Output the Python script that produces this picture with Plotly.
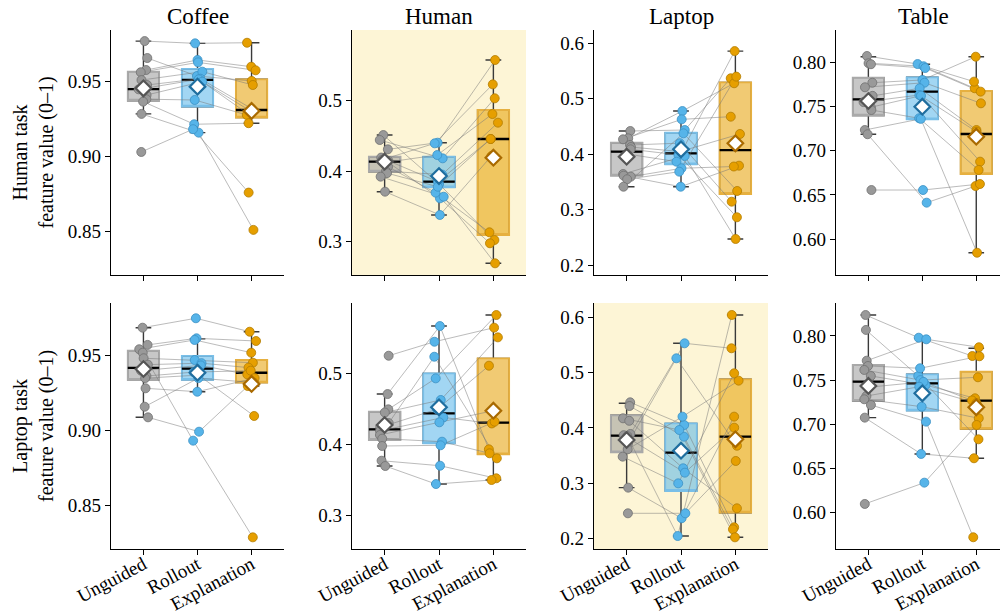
import numpy as np
import plotly.graph_objects as go

# ---------------- data ----------------
conditions = ["Unguided", "Rollout", "Explanation"]
objects = ["Coffee", "Human", "Laptop", "Table"]
task_titles = ["Human task<br>feature value (0–1)", "Laptop task<br>feature value (0–1)"]
highlight = [(0, 1), (1, 2)]  # (row, col) of highlighted panels

# 12 participants per condition, index-aligned (same participant across conditions)
ht_coffee_unguided = [0.9771, 0.9658, 0.9578, 0.9563, 0.9511, 0.9478, 0.9449, 0.9411, 0.9383, 0.9367, 0.9285, 0.9031]
ht_coffee_rollout = [0.9756, 0.9538, 0.9645, 0.9629, 0.9567, 0.9520, 0.9516, 0.9500, 0.9378, 0.9216, 0.9160, 0.9183]
ht_coffee_explanation = [0.9760, 0.9505, 0.9600, 0.9576, 0.9478, 0.9320, 0.9300, 0.9280, 0.9278, 0.9223, 0.8511, 0.8760]

ht_human_unguided = [0.4508, 0.4438, 0.4306, 0.4190, 0.4160, 0.4144, 0.4120, 0.4060, 0.3997, 0.3970, 0.3920, 0.3708]
ht_human_rollout = [0.3816, 0.4179, 0.4400, 0.3614, 0.4391, 0.3849, 0.4226, 0.3694, 0.3950, 0.3778, 0.3637, 0.3379]
ht_human_explanation = [0.3025, 0.5027, 0.5568, 0.2979, 0.5224, 0.4452, 0.4805, 0.3134, 0.4683, 0.4452, 0.2696, 0.4211]

ht_laptop_unguided = [0.4420, 0.4288, 0.4270, 0.4168, 0.4130, 0.4090, 0.4005, 0.3645, 0.3615, 0.3597, 0.3550, 0.3416]
ht_laptop_rollout = [0.4438, 0.4780, 0.4630, 0.4200, 0.4050, 0.3990, 0.3867, 0.3970, 0.3416, 0.3748, 0.3687, 0.4378]
ht_laptop_explanation = [0.5370, 0.5280, 0.4678, 0.3146, 0.4366, 0.2865, 0.5860, 0.2474, 0.3795, 0.3780, 0.5400, 0.3339]

ht_table_unguided = [0.8071, 0.7989, 0.7978, 0.7769, 0.7717, 0.7620, 0.7550, 0.7491, 0.7460, 0.7234, 0.7186, 0.6555]
ht_table_rollout = [0.7980, 0.7955, 0.7935, 0.7800, 0.7769, 0.7706, 0.7630, 0.7622, 0.7367, 0.7360, 0.6412, 0.6555]
ht_table_explanation = [0.7706, 0.7781, 0.7668, 0.8063, 0.7536, 0.7234, 0.7215, 0.6876, 0.6782, 0.5846, 0.6600, 0.6623]

lt_coffee_unguided = [0.9687, 0.9572, 0.9543, 0.9520, 0.9483, 0.9440, 0.9400, 0.9364, 0.9350, 0.9282, 0.9159, 0.9088]
lt_coffee_rollout = [0.9750, 0.9616, 0.9605, 0.8932, 0.9471, 0.9450, 0.9435, 0.9390, 0.9370, 0.9259, 0.9350, 0.8992]
lt_coffee_explanation = [0.9660, 0.9598, 0.9520, 0.8286, 0.9453, 0.9420, 0.9375, 0.9400, 0.9097, 0.9350, 0.9320, 0.9297]

lt_human_unguided = [0.5253, 0.4711, 0.4495, 0.4450, 0.4300, 0.4240, 0.4190, 0.4132, 0.4080, 0.3976, 0.3768, 0.3693]
lt_human_rollout = [0.5451, 0.5673, 0.4933, 0.4627, 0.5239, 0.4496, 0.4380, 0.4311, 0.4037, 0.3986, 0.3697, 0.3438]
lt_human_explanation = [0.5650, 0.3929, 0.5829, 0.5513, 0.3802, 0.5112, 0.4295, 0.4470, 0.3873, 0.4320, 0.3519, 0.3495]

lt_laptop_unguided = [0.4464, 0.4397, 0.4175, 0.4130, 0.3892, 0.3870, 0.3855, 0.3723, 0.3615, 0.3482, 0.2922, 0.2459]
lt_laptop_rollout = [0.4054, 0.3843, 0.3964, 0.3272, 0.5530, 0.3193, 0.2049, 0.5259, 0.4205, 0.3000, 0.2369, 0.2459]
lt_laptop_explanation = [0.2206, 0.2170, 0.2025, 0.2549, 0.5440, 0.4006, 0.6042, 0.3680, 0.4855, 0.4988, 0.4205, 0.3404]

lt_table_unguided = [0.8237, 0.8068, 0.7720, 0.7660, 0.7615, 0.7547, 0.7420, 0.7320, 0.7283, 0.7218, 0.7075, 0.6098]
lt_table_rollout = [0.7980, 0.7547, 0.7962, 0.7634, 0.7500, 0.7445, 0.7480, 0.7425, 0.7199, 0.7030, 0.6664, 0.6339]
lt_table_explanation = [0.7773, 0.6830, 0.7872, 0.7770, 0.7532, 0.7294, 0.7270, 0.7240, 0.7068, 0.5721, 0.6615, 0.6992]

# box summaries: [lower whisker, q1, median, q3, upper whisker, mean]
ht_coffee_box = [[0.9285, 0.9373, 0.9451, 0.9567, 0.9771, 0.9456],
                 [0.9160, 0.9333, 0.9512, 0.9585, 0.9756, 0.9467],
                 [0.9223, 0.9260, 0.9311, 0.9516, 0.9760, 0.9305]]
ht_human_box = [[0.3708, 0.3990, 0.4132, 0.4202, 0.4508, 0.4132],
                [0.3379, 0.3770, 0.3849, 0.4202, 0.4400, 0.3929],
                [0.2696, 0.3096, 0.4452, 0.4862, 0.5568, 0.4188]]
ht_laptop_box = [[0.3416, 0.3615, 0.4047, 0.4209, 0.4420, 0.3957],
                 [0.3416, 0.3820, 0.4018, 0.4389, 0.4780, 0.4090],
                 [0.2474, 0.3285, 0.4077, 0.5297, 0.5860, 0.4198]]
ht_table_box = [[0.7186, 0.7396, 0.7581, 0.7826, 0.8063, 0.7562],
                [0.7355, 0.7355, 0.7668, 0.7830, 0.7977, 0.7498],
                [0.5846, 0.6736, 0.7189, 0.7675, 0.8063, 0.7158]]
lt_coffee_box = [[0.9088, 0.9338, 0.9418, 0.9533, 0.9687, 0.9411],
                 [0.9259, 0.9338, 0.9413, 0.9498, 0.9612, 0.9386],
                 [0.9297, 0.9320, 0.9386, 0.9471, 0.9660, 0.9311]]
lt_human_box = [[0.3693, 0.4061, 0.4212, 0.4461, 0.4711, 0.4273],
                [0.3438, 0.4014, 0.4438, 0.5004, 0.5673, 0.4523],
                [0.3495, 0.3859, 0.4306, 0.5216, 0.5829, 0.4476]]
lt_laptop_box = [[0.2922, 0.3561, 0.3861, 0.4229, 0.4446, 0.3783],
                 [0.2049, 0.2862, 0.3554, 0.4084, 0.5530, 0.3590],
                 [0.2025, 0.2470, 0.3843, 0.4880, 0.6042, 0.3795]]
lt_table_box = [[0.7075, 0.7264, 0.7482, 0.7671, 0.8237, 0.7434],
                [0.6664, 0.7154, 0.7464, 0.7566, 0.7974, 0.7351],
                [0.6615, 0.6947, 0.7267, 0.7596, 0.7860, 0.7192]]

# y-axis ranges and ticks per panel (row-major)
y_ranges = [[0.821, 0.9845], [0.2531, 0.5992], [0.1825, 0.624], [0.5594, 0.8365],
            [0.8208, 0.9852], [0.2519, 0.5999], [0.1814, 0.6258], [0.5588, 0.8373]]
y_ticks = [[0.85, 0.90, 0.95], [0.3, 0.4, 0.5], [0.2, 0.3, 0.4, 0.5, 0.6], [0.60, 0.65, 0.70, 0.75, 0.80],
           [0.85, 0.90, 0.95], [0.3, 0.4, 0.5], [0.2, 0.3, 0.4, 0.5, 0.6], [0.60, 0.65, 0.70, 0.75, 0.80]]
y_formats = [".2f", ".1f", ".1f", ".2f", ".2f", ".1f", ".1f", ".2f"]

panels_points = [
    [ht_coffee_unguided, ht_coffee_rollout, ht_coffee_explanation],
    [ht_human_unguided, ht_human_rollout, ht_human_explanation],
    [ht_laptop_unguided, ht_laptop_rollout, ht_laptop_explanation],
    [ht_table_unguided, ht_table_rollout, ht_table_explanation],
    [lt_coffee_unguided, lt_coffee_rollout, lt_coffee_explanation],
    [lt_human_unguided, lt_human_rollout, lt_human_explanation],
    [lt_laptop_unguided, lt_laptop_rollout, lt_laptop_explanation],
    [lt_table_unguided, lt_table_rollout, lt_table_explanation],
]
panels_box = [ht_coffee_box, ht_human_box, ht_laptop_box, ht_table_box,
              lt_coffee_box, lt_human_box, lt_laptop_box, lt_table_box]

# ---------------- styles ----------------
W, H = 1000, 614
FONT = "Liberation Serif, Times New Roman, serif"
point_colors = ["#999999", "#56B4E9", "#E69F00"]
point_edges = ["#707070", "#3b90c4", "#b37c00"]
box_fills = ["rgba(153,153,153,0.55)", "rgba(86,180,233,0.55)", "rgba(230,159,0,0.55)"]
box_edges = ["#a9a9a9", "#79bfe8", "#e6b040"]
mean_edges = ["#555555", "#1f6e9f", "#a96a00"]
WHISKER = "#3a3a3a"
HILITE = "#fdf5d6"

col_px = [(111, 284), (352, 526), (594, 768), (836, 1000)]
row_px = [(30, 275), (303, 549)]
x_ranges = [[-0.6, 2.6], [-0.6, 2.6], [-0.6, 2.6], [-0.6, 2.44]]

BOXW = 0.58
rng = np.random.default_rng(7)

fig = go.Figure()
layout_axes = {}
shapes = []
annotations = []

for p in range(8):
    r, c = divmod(p, 4)
    ax = "" if p == 0 else str(p + 1)
    xref, yref = "x" + ax, "y" + ax
    pts = panels_points[p]
    box = panels_box[p]

    # boxes: whiskers layer, colored body, black median
    for k in range(3):
        lo, q1, med, q3, hi, mean = box[k]
        common = dict(x=[k], width=BOXW, xaxis=xref, yaxis=yref, showlegend=False,
                      hoverinfo="skip", boxpoints=False)
        fig.add_trace(go.Box(q1=[q1], median=[med], q3=[q3], lowerfence=[lo], upperfence=[hi],
                             whiskerwidth=0.5, fillcolor="rgba(0,0,0,0)",
                             line=dict(color=WHISKER, width=1.4), **common))
        fig.add_trace(go.Box(q1=[q1], median=[q1], q3=[q3], lowerfence=[q1], upperfence=[q3],
                             whiskerwidth=0, fillcolor=box_fills[k],
                             line=dict(color=box_edges[k], width=1.8), **common))
        fig.add_trace(go.Box(q1=[med], median=[med], q3=[med], lowerfence=[med], upperfence=[med],
                             whiskerwidth=0, fillcolor="rgba(0,0,0,0)",
                             line=dict(color="black", width=2.3), **common))

    # jittered x positions
    jit = rng.uniform(-0.09, 0.09, size=(3, len(pts[0])))
    xs = [k + jit[k] for k in range(3)]

    # participant connecting lines
    lx, ly = [], []
    for i in range(len(pts[0])):
        for k in range(3):
            lx.append(xs[k][i])
            ly.append(pts[k][i])
        lx.append(None)
        ly.append(None)
    fig.add_trace(go.Scatter(x=lx, y=ly, mode="lines", xaxis=xref, yaxis=yref,
                             line=dict(color="rgba(120,120,120,0.5)", width=1),
                             showlegend=False, hoverinfo="skip"))
    # points
    for k in range(3):
        fig.add_trace(go.Scatter(x=xs[k], y=pts[k], mode="markers", xaxis=xref, yaxis=yref,
                                 marker=dict(size=9, color=point_colors[k],
                                             line=dict(color=point_edges[k], width=0.8)),
                                 showlegend=False, hoverinfo="skip"))
    # means
    for k in range(3):
        fig.add_trace(go.Scatter(x=[k], y=[box[k][5]], mode="markers", xaxis=xref, yaxis=yref,
                                 marker=dict(symbol="diamond", size=12, color="white",
                                             line=dict(color=mean_edges[k], width=2.2)),
                                 showlegend=False, hoverinfo="skip"))

    x0, x1 = col_px[c]
    y0, y1 = row_px[r]
    axis_common = dict(showline=True, linecolor="black", linewidth=1.3, showgrid=False,
                       zeroline=False, ticks="outside", ticklen=5, tickwidth=1.3,
                       tickcolor="black", automargin=False,
                       tickfont=dict(family=FONT, size=19, color="black"))
    layout_axes["xaxis" + ax] = dict(domain=[x0 / W, x1 / W], anchor=yref, range=x_ranges[c],
                                     tickvals=[0, 1, 2], ticktext=conditions, tickangle=-28,
                                     ticklabelstandoff=-9,
                                     showticklabels=(r == 1), **axis_common)
    layout_axes["yaxis" + ax] = dict(domain=[1 - y1 / H, 1 - y0 / H], anchor=xref, range=y_ranges[p],
                                     tickvals=y_ticks[p], tickformat=y_formats[p], **axis_common)
    if (r, c) in highlight:
        shapes.append(dict(type="rect", xref=xref + " domain", yref=yref + " domain",
                           x0=0, x1=1, y0=0, y1=1, fillcolor=HILITE, line=dict(width=0),
                           layer="below"))
    if r == 0:
        annotations.append(dict(text=objects[c], x=(x0 + x1) / 2 / W if c < 3 else (x0 + 1010) / 2 / W,
                                y=1 - 16 / H, xref="paper", yref="paper", showarrow=False,
                                xanchor="center", yanchor="middle",
                                font=dict(family=FONT, size=23, color="black")))

for r in range(2):
    y0, y1 = row_px[r]
    annotations.append(dict(text=task_titles[r], x=33 / W, y=1 - (y0 + y1) / 2 / H,
                            xref="paper", yref="paper", showarrow=False, textangle=-90,
                            xanchor="center", yanchor="middle",
                            font=dict(family=FONT, size=20, color="black")))

fig.update_layout(template="none", width=W, height=H,
                  margin=dict(l=0, r=0, t=0, b=0, autoexpand=False),
                  paper_bgcolor="white", plot_bgcolor="white", boxmode="overlay",
                  font=dict(family=FONT, color="black"),
                  shapes=shapes, annotations=annotations, showlegend=False,
                  **layout_axes)

fig.write_html("out.html")
